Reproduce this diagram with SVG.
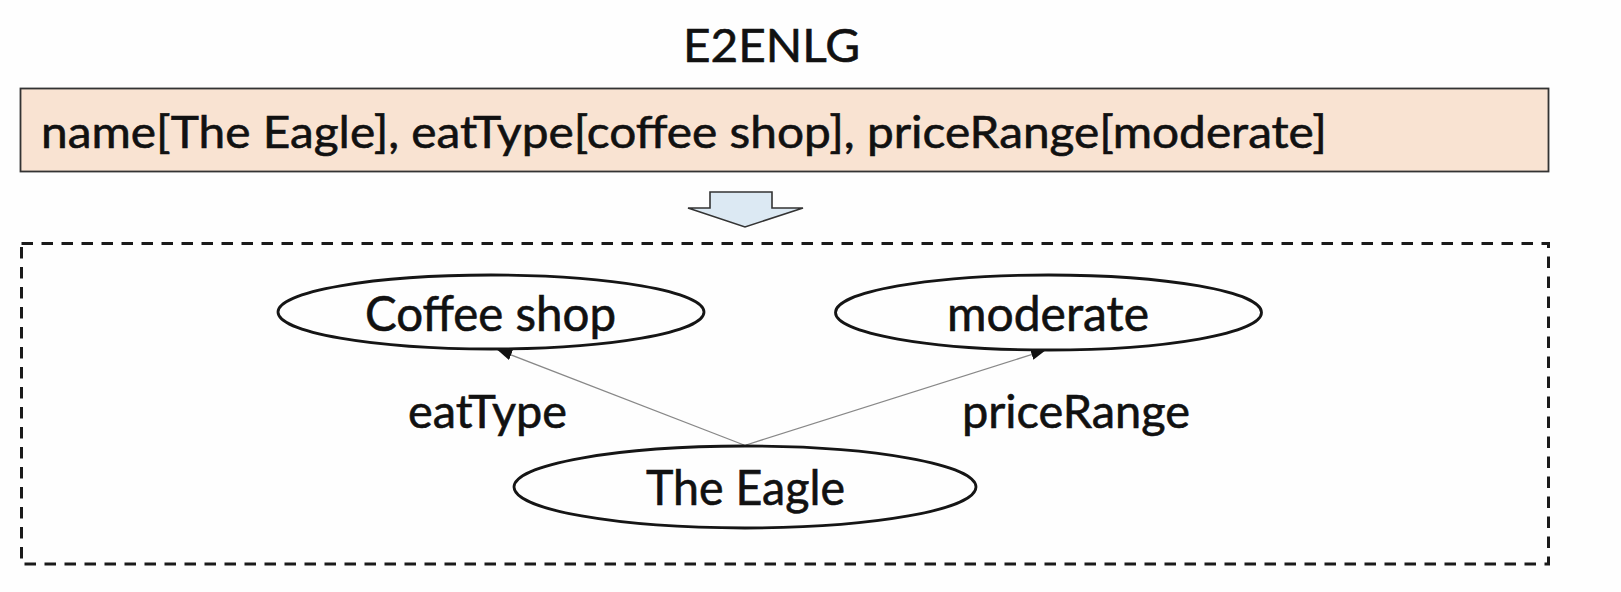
<svg xmlns="http://www.w3.org/2000/svg" width="1621" height="592" viewBox="0 0 1621 592">
  <defs>
    <style>
      .t { font-family: Lato, "Liberation Sans", "DejaVu Sans", sans-serif; fill: #111; stroke: #111; stroke-width: 0.6; }
      .node { fill: none; stroke: #151515; stroke-width: 2.8; }
      .edge { stroke: #888; stroke-width: 1.3; fill: none; }
    </style>
    <marker id="arr" markerUnits="userSpaceOnUse" markerWidth="16" markerHeight="12" refX="15" refY="5.5" orient="auto">
      <path d="M0,0 L15,5.5 L0,11 z" fill="#111"/>
    </marker>
  </defs>
  <rect x="0" y="0" width="1621" height="592" fill="#fefefe"/>

  <g id="title">
    <text class="t" x="683" y="62" font-size="47" textLength="177" lengthAdjust="spacingAndGlyphs">E2ENLG</text>
  </g>

  <g id="input">
    <rect x="20.5" y="88.5" width="1528" height="83" fill="#f9e3d2" stroke="#333" stroke-width="1.8"/>
    <text class="t" x="41" y="148" font-size="45" textLength="1286" lengthAdjust="spacingAndGlyphs">name[The Eagle], eatType[coffee shop], priceRange[moderate]</text>
  </g>

  <g id="down-arrow">
    <polygon points="710,192 772,192 772,208 803,208 745,227 688,208 710,208" fill="#dce9f3" stroke="#333" stroke-width="1.6" stroke-linejoin="miter"/>
  </g>

  <g id="graph-frame">
    <rect x="21.5" y="243.5" width="1527" height="320.5" fill="none" stroke="#1a1a1a" stroke-width="3" stroke-dasharray="11.5,8.5"/>
  </g>

  <g id="connectors">
    <line class="edge" x1="744" y1="445" x2="497" y2="349.5" marker-end="url(#arr)"/>
    <line class="edge" x1="746" y1="445" x2="1046" y2="350" marker-end="url(#arr)"/>
    <text class="t" x="408" y="428" font-size="46" textLength="159" lengthAdjust="spacingAndGlyphs">eatType</text>
    <text class="t" x="962" y="428" font-size="46" textLength="228" lengthAdjust="spacingAndGlyphs">priceRange</text>
  </g>

  <g id="node-coffee-shop">
    <ellipse class="node" cx="491" cy="312" rx="213" ry="37"/>
    <text class="t" x="365" y="331" font-size="48" textLength="251" lengthAdjust="spacingAndGlyphs">Coffee shop</text>
  </g>

  <g id="node-moderate">
    <ellipse class="node" cx="1048.5" cy="312.5" rx="213" ry="37.5"/>
    <text class="t" x="947" y="331" font-size="48" textLength="202" lengthAdjust="spacingAndGlyphs">moderate</text>
  </g>

  <g id="node-the-eagle">
    <ellipse class="node" cx="745" cy="487" rx="231" ry="41"/>
    <text class="t" x="646" y="505" font-size="48" textLength="199" lengthAdjust="spacingAndGlyphs">The Eagle</text>
  </g>
</svg>
